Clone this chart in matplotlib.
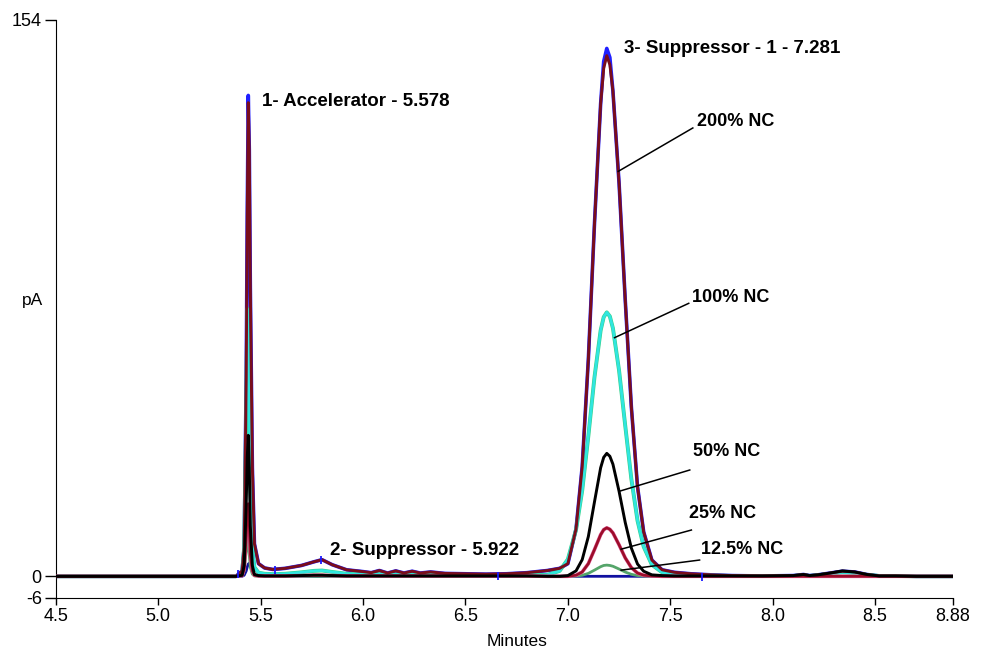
import matplotlib
matplotlib.use("Agg")
import matplotlib.pyplot as plt

# retention time grid (minutes), shared by every trace
t = [4.50, 5.30, 5.38, 5.41, 5.42, 5.43, 5.435, 5.44, 5.445, 5.45, 5.46, 5.47, 5.49,
     5.52, 5.56, 5.62, 5.70, 5.76, 5.80, 5.85, 5.92, 6.00, 6.04, 6.08, 6.12, 6.16,
     6.20, 6.24, 6.28, 6.33, 6.40, 6.50, 6.60, 6.70, 6.80,
     6.90, 6.96, 7.00, 7.04, 7.07, 7.10, 7.13, 7.16, 7.175, 7.19, 7.205, 7.22, 7.25,
     7.28, 7.31, 7.34, 7.37, 7.41, 7.46, 7.52, 7.60, 7.70,
     7.80, 7.95, 8.10, 8.15, 8.18, 8.22, 8.28, 8.34, 8.40, 8.46, 8.52, 8.60, 8.70, 8.88]

# signal (pA)
nc200_a = ([0, 0, 0, 1.5, 8, 55, 100, 133, 118, 80, 30, 9, 3.5] +
           [2.3, 1.9, 2.2, 3.0, 4.0, 4.6, 3.2, 1.8, 1.3, 1.0, 1.6, 0.9, 1.5, 0.9, 1.4, 0.9,
            1.2, 0.8, 0.7, 0.6, 0.7, 1.0] +
           [1.6, 2.2, 3.5, 13.1, 30.3, 60.0, 97.6, 130.7, 142.4, 146, 143.5, 134.2, 108.7,
            76.5, 46.8, 24.8, 12.3, 4.5, 1.8, 1.1, 0.7, 0.4] +
           [0.2, 0.1, 0.2, 0.5, 0.2, 0.4, 0.9, 1.4, 1.2, 0.5, 0.1, 0.1, 0, 0])
nc200_b = ([0, 0, 0, 1.5, 8, 55, 100, 131, 118, 80, 30, 9, 3.5] +
           [2.3, 1.9, 2.2, 3.0, 4.0, 4.6, 3.2, 1.8, 1.3, 1.0, 1.6, 0.9, 1.5, 0.9, 1.4, 0.9,
            1.2, 0.8, 0.7, 0.6, 0.7, 1.0] +
           [1.6, 2.2, 3.5, 13.1, 30.3, 60.0, 97.6, 130.7, 140.5, 144, 141.5, 134.2, 108.7,
            76.5, 46.8, 24.8, 12.3, 4.5, 1.8, 1.1, 0.7, 0.4] +
           [0.2, 0.1, 0.2, 0.5, 0.2, 0.4, 0.9, 1.4, 1.2, 0.5, 0.1, 0.1, 0, 0])
nc100 = ([0, 0, 0, 1.0, 8, 45, 74, 65, 45, 25, 8, 2.5, 1.0] +
         [0.7, 0.6, 0.7, 1.1, 1.5, 1.6, 1.2, 0.7, 0.5, 0.4, 0.6, 0.4, 0.5, 0.4, 0.5, 0.3,
          0.4, 0.3, 0.3, 0.3, 0.3, 0.3] +
         [0.4, 1.5, 4.7, 12.9, 23.7, 38.8, 55.1, 68.0, 71.7, 73, 71.9, 68.6, 56.9, 41.7,
          26.9, 15.4, 8.2, 3.2, 1.1, 0.6, 0.4, 0.2] +
         [0.1, 0.1, 0.1, 0.3, 0.1, 0.3, 0.7, 1.1, 0.9, 0.4, 0.1, 0.1, 0, 0])
nc50 = ([0, 0, 0, 0.3, 3, 20, 33, 39, 30, 14, 3, 0.5, 0.2] +
        [0.1, 0.1, 0.1, 0.2, 0.3, 0.3, 0.2, 0.1, 0.1, 0.1, 0.1, 0.1, 0.1, 0.1, 0.1, 0.1,
         0.1, 0.1, 0.1, 0.1, 0.1, 0.1] +
        [0, 0, 0.2, 1.5, 4.6, 11.0, 20.6, 30.0, 32.9, 34, 33.2, 31.0, 23.5, 14.9, 7.8,
         3.4, 1.4, 0.4, 0.2, 0.1, 0.1, 0.1] +
        [0.1, 0.1, 0.2, 0.5, 0.2, 0.4, 0.9, 1.5, 1.2, 0.5, 0.1, 0.1, 0, 0])
nc25 = ([0, 0, 0, 0.2, 2, 11, 18, 20, 14, 6, 1.5, 0.3, 0.1] +
        [0.1, 0.1, 0.1, 0.2, 0.3, 0.3, 0.2, 0.1] + [0.1] * 14 +
        [0, 0, 0, 0.3, 1.2, 3.5, 7.4, 11.5, 12.9, 13.4, 13.0, 12.0, 8.7, 5.1, 2.4, 0.9,
         0.3, 0.1, 0, 0, 0, 0] +
        [0] * 14)
nc125 = ([0, 0, 0, 0.2, 1.5, 7, 10.5, 9, 6, 2.5, 0.6, 0.1, 0] +
         [0] * 22 +
         [0, 0, 0, 0.07, 0.28, 0.81, 1.71, 2.66, 3.0, 3.1, 3.0, 2.78, 2.01, 1.18, 0.55,
          0.21, 0.07, 0, 0, 0, 0, 0] +
         [0] * 14)
blank = ([0, 0, 0, 0, 0.3, 1.5, 2.6, 3.4, 3.6, 3.0, 1.5, 0.5, 0.1] + [0] * 58)

# integration marks
mark_t = [5.392, 5.57, 5.794, 6.661, 7.653]
mark_y = [0.6, 1.7, 4.5, 0.2, -0.3]

peak_labels = ["1- Accelerator - 5.578", "2- Suppressor - 5.922", "3- Suppressor - 1 - 7.281"]
peak_label_pos = [(5.507, 131.4), (5.839, 7.1), (7.273, 146.1)]

nc_labels = ["200% NC", "100% NC", "50% NC", "25% NC", "12.5% NC"]
nc_label_pos = [(7.629, 125.9), (7.605, 77.2), (7.610, 34.4), (7.590, 17.5), (7.649, 7.3)]
nc_line_start = [(7.246, 112), (7.228, 66), (7.25, 23.5), (7.26, 7.5), (7.26, 1.7)]
nc_line_end = [(7.61, 124.0), (7.59, 75.5), (7.595, 29.4), (7.603, 12.8), (7.643, 4.5)]

xticks = [4.5, 5.0, 5.5, 6.0, 6.5, 7.0, 7.5, 8.0, 8.5, 8.88]
xticklabels = ["4.5", "5.0", "5.5", "6.0", "6.5", "7.0", "7.5", "8.0", "8.5", "8.88"]
yticks = [-6, 0, 154]

tick_font = "Liberation Sans"
label_font = ["Liberation Sans Narrow", "Liberation Sans"]

fig = plt.figure(figsize=(9.82, 6.54), dpi=100)
ax = fig.add_axes([55.7 / 982, 1 - 598 / 654, (953 - 55.7) / 982, (598 - 19.5) / 654])

ax.plot(t, blank, color="#1010a0", lw=2.0, zorder=0.5)
ax.plot(t, nc200_a, color="#2020ff", lw=2.6, zorder=1)
ax.plot(t, nc100, color="#35d08a", lw=2.8, zorder=2)
ax.plot(t, nc100, color="#30e6e0", lw=2.0, zorder=2.1)
ax.plot(t, nc125, color="#55a56a", lw=2.0, zorder=3)
ax.plot(t, nc25, color="#e0609a", lw=2.6, zorder=4)
ax.plot(t, nc25, color="#9c0d2a", lw=1.9, zorder=4.1)
ax.plot(t, nc200_b, color="#7a0d1c", lw=2.1, zorder=5)
ax.plot(t, nc50, color="black", lw=2.1, zorder=6)
ax.plot(mark_t, mark_y, linestyle="none", marker="|", markersize=6, mew=1.3,
        color="#1a1aff", zorder=7)

for txt, pos in zip(peak_labels, peak_label_pos):
    ax.text(pos[0], pos[1], txt, fontsize=13.5, fontweight="bold", family=label_font,
            ha="left", va="center", zorder=8)

for txt, pos, p0, p1 in zip(nc_labels, nc_label_pos, nc_line_start, nc_line_end):
    ax.plot([p0[0], p1[0]], [p0[1], p1[1]], color="black", lw=1.1, zorder=7)
    ax.text(pos[0], pos[1], txt, fontsize=13, fontweight="bold", family=label_font,
            ha="left", va="center", zorder=8)

ax.set_xlim(4.5, 8.88)
ax.set_ylim(-6, 154)
ax.set_xticks(xticks)
ax.set_xticklabels(xticklabels, family=tick_font, fontsize=13)
ax.set_yticks(yticks)
ax.set_yticklabels([str(v) for v in yticks], family=tick_font, fontsize=13)
ax.tick_params(axis="y", length=8, width=1, pad=2)
ax.tick_params(axis="x", length=5, width=1, pad=2)
ax.spines["top"].set_visible(False)
ax.spines["right"].set_visible(False)

fig.text(33 / 982, 1 - 300 / 654, "pA", family=tick_font, fontsize=12.5, ha="center", va="center")
fig.text(517 / 982, 1 - 641 / 654, "Minutes", family=tick_font, fontsize=12.5, ha="center", va="center")

fig.savefig("out.png", dpi=100)
